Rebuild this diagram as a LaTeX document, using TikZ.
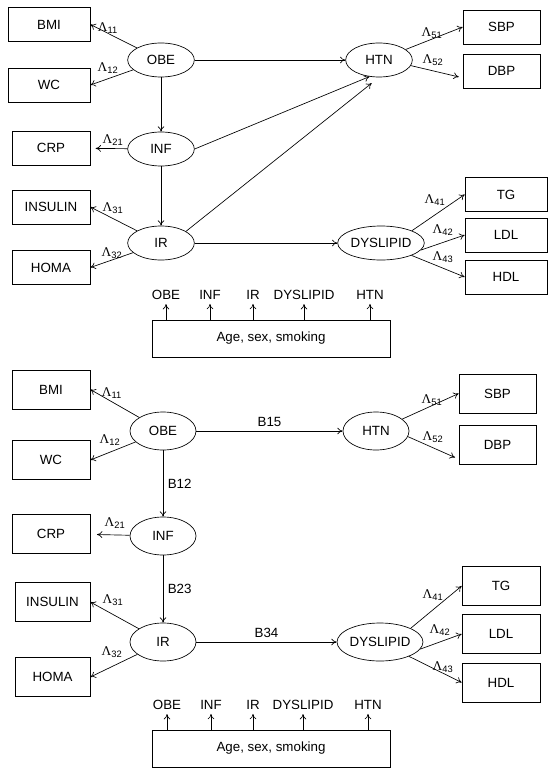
\documentclass[tikz,border=0pt]{standalone}
\usepackage{fontspec}
\setmainfont{Liberation Sans}
\newfontfamily\lamfont{Liberation Serif}
\usetikzlibrary{shapes.geometric,arrows.meta}

\newcommand{\lam}[1]{{\lamfont Λ}\textsubscript{#1}}

\tikzset{boite/.style = {draw, rectangle, inner sep=0pt, minimum width=#1, minimum height=25.5pt},
         boite/.default=58.5pt,
         latente/.style = {draw, ellipse, inner sep=0pt, minimum width=50pt, minimum height=25.5pt},
         covar/.style = {inner sep=3pt},
         fleche/.style = {-{To[length=4pt,width=5pt]}}
        }

\begin{document}
\begin{tikzpicture}[x=0.75pt, y=-0.75pt, font=\fontsize{10}{12}\selectfont, line width=0.5pt]
  \useasboundingbox (0,0) rectangle (550,770);

  % modele du haut
  \node[latente] (OBE1) at (161,60) {OBE};
  \node[latente] (INF1) at (161,149) {INF};
  \node[latente] (IR1) at (161,243) {IR};
  \node[latente] (HTN1) at (379,60) {HTN};
  \node[latente, minimum width=65pt] (DYS1) at (381,243) {DYSLIPID};
  \node[boite=61.5pt] (BMI1) at (49,24.5) {BMI};
  \node[boite=61.5pt] (WC1) at (49,85) {WC};
  \node[boite] (CRP1) at (51,148) {CRP};
  \node[boite] (INS1) at (51,207) {INSULIN};
  \node[boite] (HOMA1) at (51,267.5) {HOMA};
  \node[boite=57.75pt] (SBP1) at (501.5,27) {SBP};
  \node[boite=57.75pt] (DBP1) at (501.5,71) {DBP};
  \node[boite=61.5pt] (TG1) at (506,194.5) {TG};
  \node[boite=61.5pt] (LDL1) at (506,235) {LDL};
  \node[boite=61.5pt] (HDL1) at (506,277) {HDL};

  \draw[fleche] (OBE1) -- (BMI1.east);
  \draw[fleche] (OBE1) -- (WC1.east);
  \draw[fleche, shorten >=4pt] (INF1) -- (CRP1);
  \draw[fleche] (IR1) -- (INS1.east);
  \draw[fleche] (IR1) -- (HOMA1.east);
  \draw[fleche] (HTN1) -- (SBP1.west);
  \draw[fleche, shorten >=3pt] (HTN1.-10) -- (DBP1.190);
  \draw[fleche] (DYS1.north east) -- (TG1.west);
  \draw[fleche] (DYS1.-10) -- (LDL1.west);
  \draw[fleche] (DYS1) -- (HDL1.west);

  \node (l11a) at (108,28) {\lam{11}};
  \node (l12a) at (108,68) {\lam{12}};
  \node (l21a) at (113,140) {\lam{21}};
  \node (l31a) at (113,208) {\lam{31}};
  \node (l32a) at (112,253) {\lam{32}};
  \node (l51a) at (432,33) {\lam{51}};
  \node (l52a) at (433,60) {\lam{52}};
  \node (l41a) at (435,200) {\lam{41}};
  \node (l42a) at (443,230) {\lam{42}};
  \node (l43a) at (443,257) {\lam{43}};

  \draw[fleche] (OBE1) -- (HTN1);
  \draw[fleche] (OBE1) -- (INF1);
  \draw[fleche] (INF1) -- (IR1);
  \draw[fleche] (INF1.east) -- (HTN1.240);
  \draw[fleche, shorten >=7pt] (IR1.25) -- (HTN1.south);
  \draw[fleche] (IR1) -- (DYS1);

  \node[boite=178.5pt, minimum height=27.75pt] (cov1) at (271,338.5) {Age, sex, smoking};
  \node[covar] (cOBE1) at (166,295) {OBE};
  \node[covar] (cINF1) at (210,295) {INF};
  \node[covar] (cIR1) at (253,295) {IR};
  \node[covar] (cDYS1) at (304,295) {DYSLIPID};
  \node[covar] (cHTN1) at (370,295) {HTN};
  \draw[fleche] (cov1.north -| cOBE1) -- (cOBE1);
  \draw[fleche] (cov1.north -| cINF1) -- (cINF1);
  \draw[fleche] (cov1.north -| cIR1) -- (cIR1);
  \draw[fleche] (cov1.north -| cDYS1) -- (cDYS1);
  \draw[fleche] (cov1.north -| cHTN1) -- (cHTN1);

  % modele du bas
  \begin{scope}[boite/.append style={minimum height=29pt},
                latente/.append style={minimum width=49.5pt, minimum height=28.5pt}]
  \node[latente] (OBE2) at (163,431) {OBE};
  \node[latente] (INF2) at (163,536) {INF};
  \node[latente] (IR2) at (163,642) {IR};
  \node[latente] (HTN2) at (376,431) {HTN};
  \node[latente, minimum width=63pt] (DYS2) at (380,642) {DYSLIPID};
  \node[boite] (BMI2) at (51,389.5) {BMI};
  \node[boite] (WC2) at (51,460) {WC};
  \node[boite] (CRP2) at (51,533.5) {CRP};
  \node[boite=56.25pt] (INS2) at (52.5,602) {INSULIN};
  \node[boite=56.25pt] (HOMA2) at (52.5,677) {HOMA};
  \node[boite=57.75pt] (SBP2) at (497.5,393.5) {SBP};
  \node[boite=57.75pt] (DBP2) at (497.5,445) {DBP};
  \node[boite] (TG2) at (501,586) {TG};
  \node[boite] (LDL2) at (501,634) {LDL};
  \node[boite] (HDL2) at (501,682.5) {HDL};
  \end{scope}

  \draw[fleche] (OBE2) -- (BMI2.east);
  \draw[fleche] (OBE2) -- (WC2.east);
  \draw[fleche, shorten >=5pt] (INF2) -- (CRP2);
  \draw[fleche] (IR2) -- (INS2.east);
  \draw[fleche] (IR2) -- (HOMA2.east);
  \draw[fleche] (HTN2) -- (SBP2.west);
  \draw[fleche, shorten >=3pt] (HTN2.-10) -- (DBP2.200);
  \draw[fleche] (DYS2.north east) -- (TG2.west);
  \draw[fleche] (DYS2.-10) -- (LDL2.west);
  \draw[fleche] (DYS2) -- (HDL2.west);

  \node (l11b) at (112,393) {\lam{11}};
  \node (l12b) at (110,440) {\lam{12}};
  \node (l21b) at (115,523) {\lam{21}};
  \node (l31b) at (113,600) {\lam{31}};
  \node (l32b) at (112,652) {\lam{32}};
  \node (l51b) at (432,400) {\lam{51}};
  \node (l52b) at (433,437) {\lam{52}};
  \node (l41b) at (433,595) {\lam{41}};
  \node (l42b) at (440,630) {\lam{42}};
  \node (l43b) at (443,667) {\lam{43}};

  \draw[fleche] (OBE2) -- node[above] (b15) {B15} (HTN2);
  \draw[fleche] (OBE2) -- node[right] (b12) {B12} (INF2);
  \draw[fleche] (INF2) -- node[right] (b23) {B23} (IR2);
  \draw[fleche] (IR2) -- node[above] (b34) {B34} (DYS2);

  \node[boite=178.5pt, minimum height=27.75pt] (cov2) at (271,748.5) {Age, sex, smoking};
  \node[covar] (cOBE2) at (167,705) {OBE};
  \node[covar] (cINF2) at (211,705) {INF};
  \node[covar] (cIR2) at (253,705) {IR};
  \node[covar] (cDYS2) at (303,705) {DYSLIPID};
  \node[covar] (cHTN2) at (368,705) {HTN};
  \draw[fleche] (cov2.north -| cOBE2) -- (cOBE2);
  \draw[fleche] (cov2.north -| cINF2) -- (cINF2);
  \draw[fleche] (cov2.north -| cIR2) -- (cIR2);
  \draw[fleche] (cov2.north -| cDYS2) -- (cDYS2);
  \draw[fleche] (cov2.north -| cHTN2) -- (cHTN2);
\end{tikzpicture}
\end{document}
